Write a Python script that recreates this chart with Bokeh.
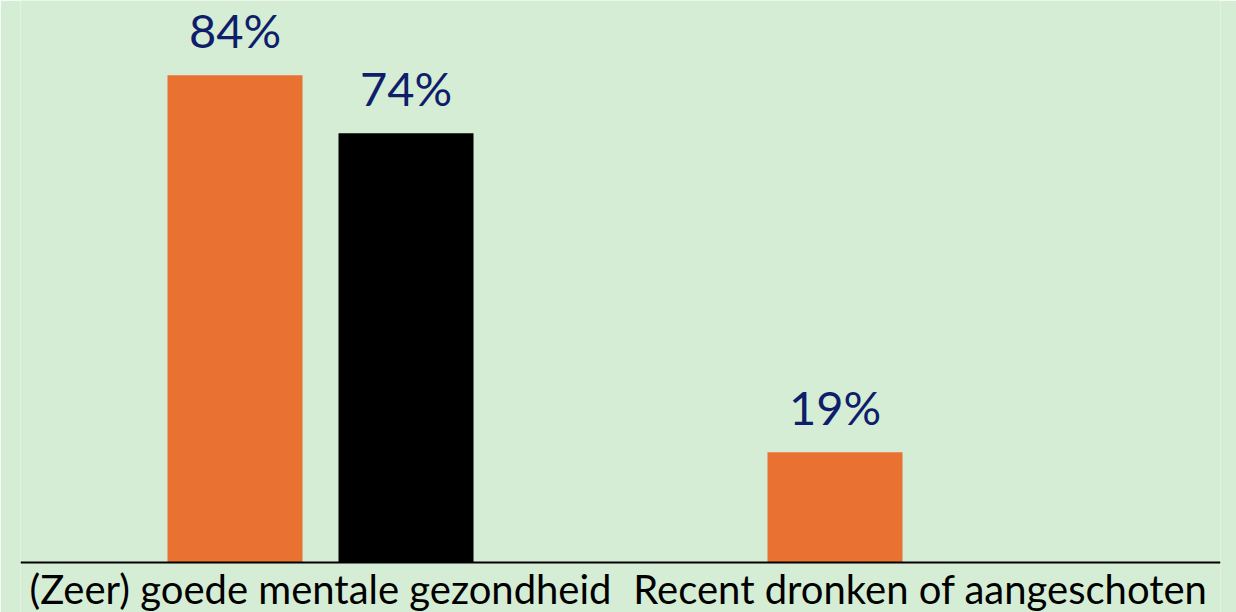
from bokeh.plotting import figure
from bokeh.models import ColumnDataSource, FactorRange, Range1d, Span
from bokeh.transform import dodge
from bokeh.core.properties import value
from bokeh.embed import file_html
from bokeh.resources import INLINE

categories = ["(Zeer) goede mentale gezondheid", "Recent dronken of aangeschoten"]
orange_values = [84, 19]
black_values = [74, None]

BG = "#D5EDD5"
ORANGE = "#E97132"
BLACK = "#000000"
NAVY = "#0E1E6A"
FONT = "Lato"

def make_source(vals):
    xs = [c for c, v in zip(categories, vals) if v is not None]
    ys = [v for v in vals if v is not None]
    return ColumnDataSource(dict(x=xs, top=ys, label=[f"{v}%" for v in ys]))

src_o = make_source(orange_values)
src_b = make_source(black_values)
src_c = ColumnDataSource(dict(x=categories, y=[0] * len(categories)))

p = figure(width=1236, height=612,
           x_range=FactorRange(factors=categories, range_padding=0),
           y_range=Range1d(-8.62, 96.9),
           output_backend="svg", toolbar_location=None,
           min_border_left=20, min_border_right=16, min_border_top=0, min_border_bottom=0)

p.background_fill_color = BG
p.border_fill_color = BG
p.outline_line_color = None
p.xgrid.visible = False
p.ygrid.visible = False
p.xaxis.visible = False
p.yaxis.visible = False

off = 0.1425
w = 0.225
p.vbar(x=dodge("x", -off, range=p.x_range), top="top", width=w, source=src_o,
       fill_color=ORANGE, line_color=None)
p.vbar(x=dodge("x", off, range=p.x_range), top="top", width=w, source=src_b,
       fill_color=BLACK, line_color=None)

p.add_layout(Span(location=0, dimension="width", line_color="black", line_width=2))

for src, o in ((src_o, -off), (src_b, off)):
    p.text(x=dodge("x", o, range=p.x_range), y="top", text="label", source=src,
           text_align="center", text_baseline="alphabetic", y_offset=-45,
           text_font=value(FONT), text_font_size="47px", text_color=NAVY)

p.text(x="x", y="y", text="x", source=src_c,
       text_align="center", text_baseline="alphabetic", y_offset=26,
       text_font=value(FONT), text_font_size="40px", text_color="black")

open("out.html", "w").write(file_html(p, INLINE))
